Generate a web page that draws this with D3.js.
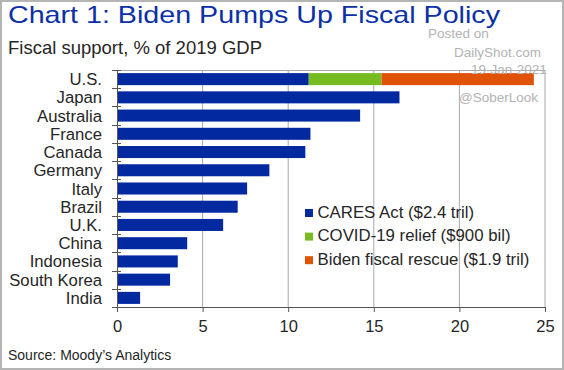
<!DOCTYPE html>
<meta charset="utf-8">
<style>
  body { margin: 0; background: #fff; }
  svg text { font-family: "Liberation Sans", Arial, sans-serif; }
</style>
<div id="chart"></div>
<script src="https://cdn.jsdelivr.net/npm/d3@7"></script>
<script>

// data
var countries = ["U.S.", "Japan", "Australia", "France", "Canada", "Germany", "Italy",
                 "Brazil", "U.K.", "China", "Indonesia", "South Korea", "India"];
var caresAct = [11.2, 16.5, 14.2, 11.3, 11.0, 8.9, 7.6, 7.05, 6.2, 4.1, 3.55, 3.1, 1.35];
var covidRelief = [4.25, 0, 0, 0, 0, 0, 0, 0, 0, 0, 0, 0, 0];
var bidenRescue = [8.9, 0, 0, 0, 0, 0, 0, 0, 0, 0, 0, 0, 0];
var seriesNames = ["CARES Act ($2.4 tril)", "COVID-19 relief ($900 bil)", "Biden fiscal rescue ($1.9 tril)"];
var seriesColors = ["#0329a1", "#76bc21", "#e05206"];
var xTicks = [0, 5, 10, 15, 20, 25];

var width = 564, height = 370;
var margin = {top: 70, right: 19, bottom: 63, left: 117};

var svg = d3.select("#chart").append("svg")
    .attr("width", width)
    .attr("height", height);

// outer frame
svg.append("rect")
    .attr("x", 1).attr("y", 1)
    .attr("width", width - 2).attr("height", height - 2)
    .attr("fill", "#fff")
    .attr("stroke", "#b4b4b4")
    .attr("stroke-width", 2);

var x = d3.scaleLinear().domain([0, 25]).range([margin.left, width - margin.right]);
var y = d3.scaleBand().domain(countries)
    .range([margin.top, height - margin.bottom])
    .paddingInner(0.34).paddingOuter(0.17);

// gridlines + plot border
svg.append("g").selectAll("line")
    .data(xTicks.slice(1))
    .join("line")
    .attr("x1", d => x(d)).attr("x2", d => x(d))
    .attr("y1", margin.top).attr("y2", height - margin.bottom)
    .attr("stroke", "#a8a8a8")
    .attr("stroke-width", 1);

svg.append("line")
    .attr("x1", margin.left).attr("x2", x(25))
    .attr("y1", margin.top + 0.5).attr("y2", margin.top + 0.5)
    .attr("stroke", "#a8a8a8");

// stacked bars
var rows = countries.map(function(c, i) {
    return {country: c, s0: caresAct[i], s1: covidRelief[i], s2: bidenRescue[i]};
});
var stack = d3.stack().keys(["s0", "s1", "s2"]);
var layers = stack(rows);

svg.append("g").selectAll("g")
    .data(layers)
    .join("g")
    .attr("fill", (d, i) => seriesColors[i])
    .selectAll("rect")
    .data(d => d.filter(p => p[1] > p[0]))
    .join("rect")
    .attr("x", d => x(d[0]))
    .attr("width", d => x(d[1]) - x(d[0]))
    .attr("y", d => y(d.data.country))
    .attr("height", y.bandwidth());

// y axis: line, ticks between categories, labels
var step = y.step();
var yAx = svg.append("g");
yAx.append("line")
    .attr("x1", margin.left + 0.5).attr("x2", margin.left + 0.5)
    .attr("y1", margin.top).attr("y2", height - margin.bottom)
    .attr("stroke", "#555");
yAx.selectAll("line.tk")
    .data(d3.range(countries.length + 1))
    .join("line")
    .attr("class", "tk")
    .attr("x1", margin.left - 5).attr("x2", margin.left + 4)
    .attr("y1", i => Math.round(margin.top + i * step) + 0.5)
    .attr("y2", i => Math.round(margin.top + i * step) + 0.5)
    .attr("stroke", "#555");
yAx.selectAll("text")
    .data(countries)
    .join("text")
    .attr("x", 102)
    .attr("y", d => y(d) + y.bandwidth() / 2 + 6)
    .attr("text-anchor", "end")
    .attr("font-size", 16.7)
    .attr("fill", "#262626")
    .text(d => d);

// x axis
var xAxis = d3.axisBottom(x).tickValues(xTicks).tickSize(5).tickPadding(8);
var gx = svg.append("g")
    .attr("transform", "translate(0," + (height - margin.bottom) + ")")
    .call(xAxis);
gx.select(".domain").attr("stroke", "#555");
gx.selectAll(".tick line").attr("stroke", "#555");
gx.selectAll(".tick text")
    .attr("font-family", "Liberation Sans, Arial, sans-serif")
    .attr("font-size", 16.5)
    .attr("fill", "#262626");

// legend
var leg = svg.append("g").attr("transform", "translate(305,209)");
seriesNames.forEach(function(name, i) {
    var g = leg.append("g").attr("transform", "translate(0," + (i * 23.6) + ")");
    g.append("rect").attr("width", 8).attr("height", 8).attr("fill", seriesColors[i]);
    g.append("text")
        .attr("x", 12.5).attr("y", 8.5)
        .attr("font-size", 16.8)
        .attr("fill", "#262626")
        .text(name);
});

// titles
svg.append("text")
    .attr("x", 8).attr("y", 23)
    .attr("font-size", 24)
    .attr("textLength", 492)
    .attr("lengthAdjust", "spacingAndGlyphs")
    .attr("fill", "#0b30a8")
    .text("Chart 1: Biden Pumps Up Fiscal Policy");

svg.append("text")
    .attr("x", 8).attr("y", 54)
    .attr("font-size", 18.5)
    .attr("fill", "#262626")
    .text("Fiscal support, % of 2019 GDP");

svg.append("text")
    .attr("x", 8).attr("y", 360)
    .attr("font-size", 14)
    .attr("fill", "#262626")
    .text("Source: Moody\u2019s Analytics");

// watermark
var wm = [
    {t: "Posted on", x: 428, y: 38},
    {t: "DailyShot.com", x: 454, y: 57},
    {t: "19-Jan-2021", x: 471, y: 74},
    {t: "@SoberLook", x: 459, y: 102}
];
svg.append("g").selectAll("text")
    .data(wm)
    .join("text")
    .attr("x", d => d.x).attr("y", d => d.y)
    .attr("font-size", 13.5)
    .attr("fill", "#b3b3b3")
    .text(d => d.t);

</script>
